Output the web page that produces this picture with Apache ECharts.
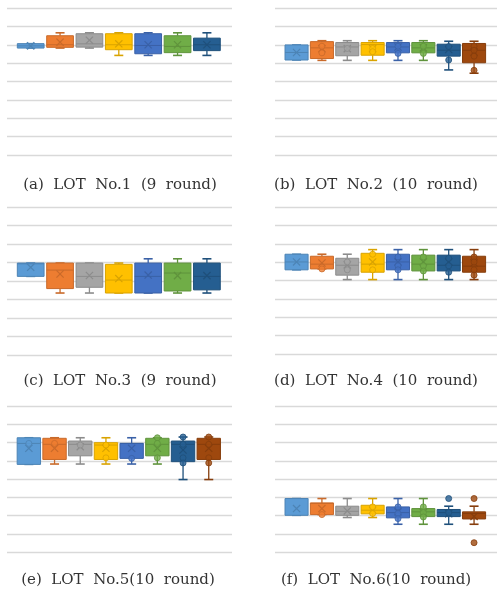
<!DOCTYPE html>
<html>
<head>
<meta charset="utf-8">
<script src="https://cdn.jsdelivr.net/npm/echarts@6/dist/echarts.min.js"></script>
<style>
html,body{margin:0;padding:0;background:#fff;}
#chart{width:497px;height:592px;}
</style>
</head>
<body>
<div id="chart"></div>
<script>
// ---------- DATA (value scale: 0..8 gridline units) ----------
// each stats row: [min, Q1, median, Q3, max]
const captions = [
  '(a)  LOT  No.1  (9  round)',
  '(b)  LOT  No.2  (10  round)',
  '(c)  LOT  No.3  (9  round)',
  '(d)  LOT  No.4  (10  round)',
  '(e)  LOT  No.5(10  round)',
  '(f)  LOT  No.6(10  round)'
];

const lot1Stats = [
  [5.82, 5.82, 5.94, 6.06, 6.06],
  [5.82, 5.86, 6.00, 6.49, 6.65],
  [5.82, 5.87, 6.05, 6.60, 6.65],
  [5.42, 5.73, 6.00, 6.60, 6.65],
  [5.42, 5.51, 5.96, 6.60, 6.65],
  [5.42, 5.57, 5.91, 6.49, 6.65],
  [5.42, 5.68, 6.00, 6.36, 6.65]
];
const lot1Means = [5.94, 6.14, 6.25, 6.05, 6.00, 6.00, 6.00];
const lot1Points = [];

const lot2Stats = [
  [5.17, 5.17, 5.58, 5.99, 5.99],
  [5.15, 5.25, 5.83, 6.17, 6.22],
  [5.15, 5.40, 5.88, 6.12, 6.22],
  [5.15, 5.43, 6.01, 6.12, 6.22],
  [5.15, 5.56, 5.88, 6.12, 6.22],
  [5.15, 5.56, 5.83, 6.12, 6.22],
  [4.63, 5.38, 5.70, 6.03, 6.19],
  [4.45, 5.02, 5.70, 6.07, 6.19]
];
const lot2Means = [5.58, 5.79, 5.79, 5.79, 5.88, 5.83, 5.74, 5.60];
const lot2Points = [
  [1, 5.92], [1, 5.56], [2, 5.80], [3, 5.80], [3, 5.62],
  [4, 5.92], [4, 5.53], [5, 5.92], [5, 5.53], [6, 5.90], [6, 5.17],
  [7, 5.92], [7, 5.70], [7, 5.38], [7, 4.61]
];

const lot3Stats = [
  [4.25, 4.25, 4.93, 4.97, 4.97],
  [3.35, 3.59, 4.59, 4.97, 4.97],
  [3.35, 3.66, 4.25, 4.97, 4.97],
  [3.35, 3.35, 4.05, 4.90, 4.97],
  [3.35, 3.35, 4.25, 4.97, 5.20],
  [3.35, 3.46, 4.43, 4.97, 5.20],
  [3.35, 3.52, 4.25, 4.97, 5.20]
];
const lot3Means = [4.74, 4.38, 4.30, 4.13, 4.32, 4.29, 4.29];
const lot3Points = [];

const lot4Stats = [
  [4.58, 4.58, 5.01, 5.43, 5.43],
  [4.63, 4.63, 4.89, 5.32, 5.43],
  [4.05, 4.29, 4.83, 5.21, 5.43],
  [4.05, 4.45, 4.89, 5.48, 5.68],
  [4.05, 4.58, 5.01, 5.43, 5.68],
  [4.05, 4.52, 4.89, 5.38, 5.68],
  [4.05, 4.52, 4.83, 5.38, 5.68],
  [4.05, 4.45, 4.78, 5.32, 5.68]
];
const lot4Means = [5.01, 4.95, 4.85, 5.01, 5.01, 5.01, 5.01, 4.95];
const lot4Points = [
  [1, 4.63], [2, 5.01], [2, 4.58], [3, 5.43], [3, 4.58],
  [4, 5.28], [4, 4.80], [4, 4.58], [5, 5.28], [5, 4.80], [5, 4.52],
  [6, 5.21], [6, 4.80], [6, 4.45], [7, 5.28], [7, 5.01], [7, 4.58], [7, 4.29]
];

const lot5Stats = [
  [4.80, 4.80, 5.95, 6.26, 6.26],
  [4.82, 5.07, 5.90, 6.23, 6.26],
  [4.82, 5.27, 5.90, 6.08, 6.26],
  [4.82, 5.07, 5.86, 5.99, 6.26],
  [4.82, 5.13, 5.95, 5.95, 6.26],
  [4.82, 5.27, 5.90, 6.23, 6.26],
  [3.97, 4.95, 5.90, 6.08, 6.30],
  [3.97, 5.07, 5.90, 6.23, 6.30]
];
const lot5Means = [5.68, 5.68, 5.77, 5.68, 5.68, 5.68, 5.59, 5.68];
const lot5Points = [
  [0, 5.95], [1, 5.95], [2, 5.86], [3, 5.86], [3, 5.16], [4, 5.13],
  [5, 6.26], [5, 5.95], [5, 5.16],
  [6, 6.30], [6, 5.90], [6, 5.16], [6, 4.88],
  [7, 6.30], [7, 5.90], [7, 5.16], [7, 4.88]
];

const lot6Stats = [
  [2.01, 2.01, 2.93, 2.93, 2.93],
  [2.05, 2.05, 2.66, 2.69, 2.93],
  [1.89, 2.01, 2.23, 2.51, 2.93],
  [1.89, 2.09, 2.29, 2.56, 2.93],
  [1.52, 1.87, 2.16, 2.47, 2.93],
  [1.52, 1.94, 2.20, 2.38, 2.93],
  [1.52, 1.94, 2.16, 2.33, 2.51],
  [1.52, 1.81, 2.11, 2.20, 2.51]
];
const lot6Means = [2.38, 2.38, 2.25, 2.29, 2.20, 2.16, 2.10, 1.95];
const lot6Points = [
  [1, 2.05], [3, 2.47], [3, 2.11], [4, 2.47], [4, 2.11], [4, 1.83],
  [5, 2.47], [5, 2.16], [5, 1.92], [6, 2.93], [6, 2.16], [7, 2.93], [7, 0.51]
];

// ---------- STYLE / LAYOUT ----------
const PALETTE = ['#5B9BD5','#ED7D31','#A5A5A5','#FFC000','#4472C4','#70AD47','#255E91','#9E480E'];
const LINE    = ['#4D84B5','#C96A2A','#8C8C8C','#D9A300','#3A61A7','#5F933C','#1F507B','#863D0C'];

const panels = [
  { stats: lot1Stats, means: lot1Means, points: lot1Points, left: 7,   top: 8,   height: 147, capX: 120, capY: 185 },
  { stats: lot2Stats, means: lot2Means, points: lot2Points, left: 275, top: 8,   height: 147, capX: 376, capY: 185 },
  { stats: lot3Stats, means: lot3Means, points: lot3Points, left: 7,   top: 207, height: 148, capX: 120, capY: 381 },
  { stats: lot4Stats, means: lot4Means, points: lot4Points, left: 275, top: 207, height: 147, capX: 376, capY: 381 },
  { stats: lot5Stats, means: lot5Means, points: lot5Points, left: 7,   top: 406, height: 146, capX: 118, capY: 580 },
  { stats: lot6Stats, means: lot6Means, points: lot6Points, left: 275, top: 406, height: 146, capX: 376, capY: 580 }
];
const PLOT_W = 225, GROUP_W = 205.6, GROUP_PAD = 9, BOX_FRAC = 0.91;

function renderBox(params, api) {
  const i = api.value(0);
  const v = [1,2,3,4,5].map(k => api.value(k));
  const mean = api.value(6);
  const p = v.map(val => api.coord([i, val]));
  const cx = p[0][0];
  const w = api.size([BOX_FRAC, 0])[0];
  const pm = api.coord([i, mean]);
  const lc = LINE[i], fc = PALETTE[i];
  const capHalf = 4.5, xs = 3.6;
  const lw = 1.3;
  const children = [
    { type: 'line', shape: { x1: cx, y1: p[4][1], x2: cx, y2: p[3][1] }, style: { stroke: lc, lineWidth: lw } },
    { type: 'line', shape: { x1: cx, y1: p[1][1], x2: cx, y2: p[0][1] }, style: { stroke: lc, lineWidth: lw } },
    { type: 'line', shape: { x1: cx - capHalf, y1: p[4][1], x2: cx + capHalf, y2: p[4][1] }, style: { stroke: lc, lineWidth: 1.6 } },
    { type: 'line', shape: { x1: cx - capHalf, y1: p[0][1], x2: cx + capHalf, y2: p[0][1] }, style: { stroke: lc, lineWidth: 1.6 } },
    { type: 'rect', shape: { x: cx - w / 2, y: p[3][1], width: w, height: Math.max(p[1][1] - p[3][1], 1) },
      style: { fill: fc, stroke: lc, lineWidth: 1 } },
    { type: 'line', shape: { x1: cx - w / 2, y1: p[2][1], x2: cx + w / 2, y2: p[2][1] }, style: { stroke: lc, lineWidth: 1 } },
    { type: 'line', shape: { x1: cx - xs, y1: pm[1] - xs, x2: cx + xs, y2: pm[1] + xs }, style: { stroke: lc, lineWidth: 1.2 } },
    { type: 'line', shape: { x1: cx - xs, y1: pm[1] + xs, x2: cx + xs, y2: pm[1] - xs }, style: { stroke: lc, lineWidth: 1.2 } }
  ];
  return { type: 'group', children };
}

const grid = [], xAxis = [], yAxis = [], series = [], graphic = [];
panels.forEach((pn, k) => {
  const n = pn.stats.length;
  const slot = GROUP_W / n;
  const xMin = -0.5 - GROUP_PAD / slot;
  const xMax = xMin + PLOT_W / slot;
  grid.push({ left: pn.left, top: pn.top, width: PLOT_W, height: pn.height, containLabel: false });
  xAxis.push({ gridIndex: k, type: 'value', min: xMin, max: xMax, show: false, splitLine: { show: false } });
  yAxis.push({
    gridIndex: k, type: 'value', min: 0, max: 8, interval: 1,
    axisLine: { show: false }, axisTick: { show: false }, axisLabel: { show: false },
    splitLine: { show: true, lineStyle: { color: '#D9D9D9', width: 1.3 } }
  });
  series.push({
    type: 'custom', xAxisIndex: k, yAxisIndex: k, z: 2,
    renderItem: renderBox,
    encode: { x: 0, y: [1, 2, 3, 4, 5] },
    data: pn.stats.map((s, i) => [i, s[0], s[1], s[2], s[3], s[4], pn.means[i]])
  });
  series.push({
    type: 'scatter', xAxisIndex: k, yAxisIndex: k, z: 3,
    symbol: 'circle', symbolSize: 6,
    data: pn.points.map(pt => ({
      value: [pt[0], pt[1]],
      itemStyle: { color: PALETTE[pt[0]], borderColor: LINE[pt[0]], borderWidth: 1 }
    }))
  });
  graphic.push({
    type: 'text', x: pn.capX, y: pn.capY,
    style: {
      text: captions[k], fill: '#333333',
      font: '15px "DejaVu Serif", serif',
      textAlign: 'center', textVerticalAlign: 'middle'
    }
  });
});

const chart = echarts.init(document.getElementById('chart'), null, { renderer: 'canvas' });
chart.setOption({ animation: false, grid, xAxis, yAxis, series, graphic });
</script>
</body>
</html>
